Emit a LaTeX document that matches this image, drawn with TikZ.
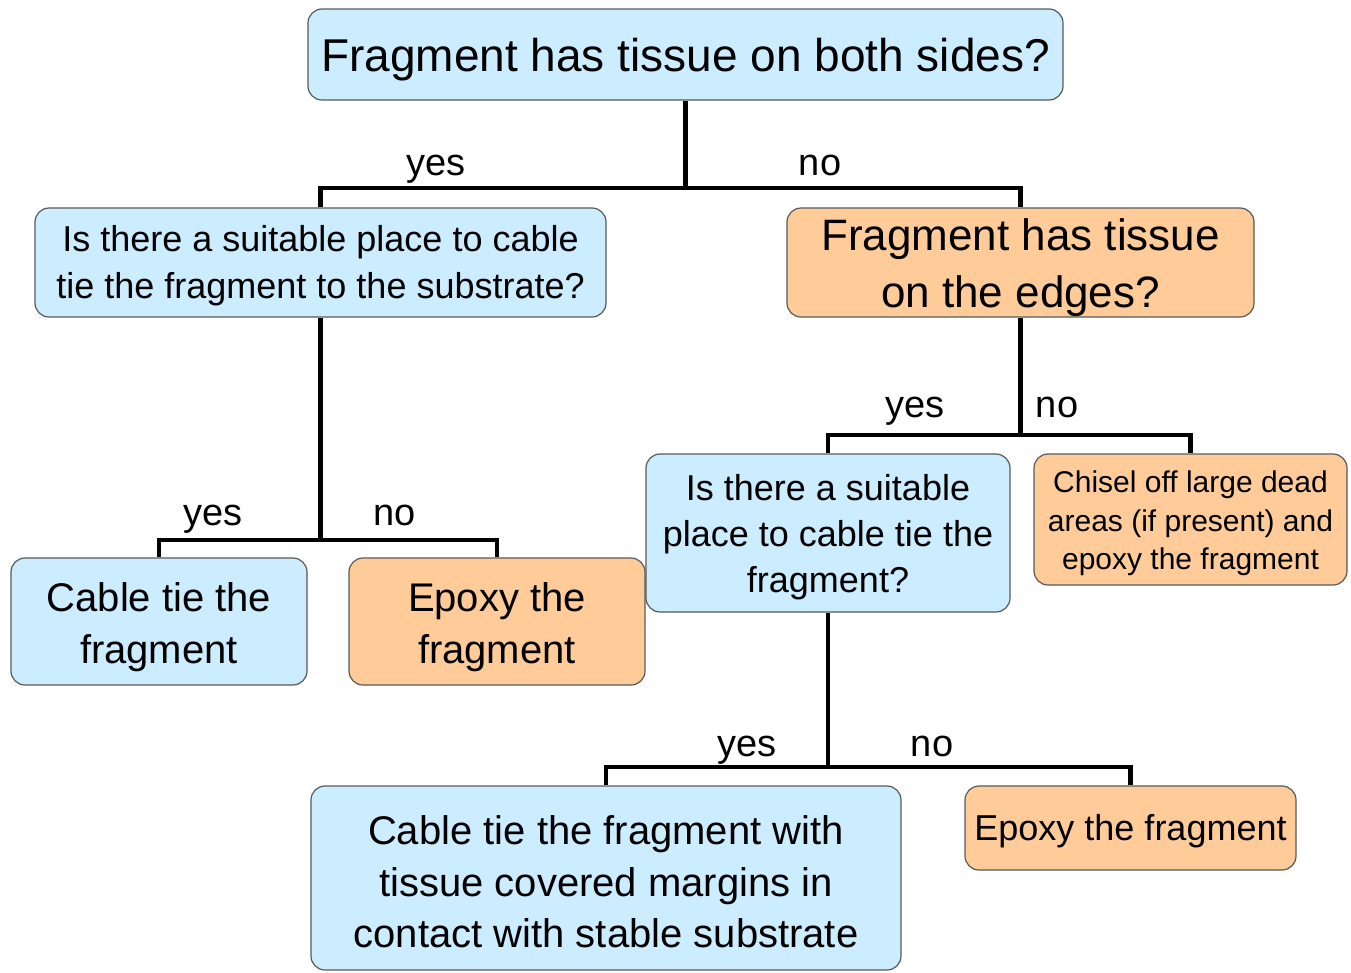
\documentclass[tikz,border=0pt]{standalone}
\usepackage{fontspec}
\setmainfont{Liberation Sans}
\definecolor{bluebox}{HTML}{CCECFF}
\definecolor{orangebox}{HTML}{FFCC99}
\begin{document}
\begin{tikzpicture}[x=1pt,y=-1pt,
  box/.style={draw=black!65, line width=1.2pt, rounded corners=14pt, inner sep=0pt, anchor=center},
  bluefill/.style={box, fill=bluebox},
  orangefill/.style={box, fill=orangebox},
  txt/.style={align=center, inner sep=0pt, anchor=center},
  conn/.style={line width=4.5pt, line cap=butt, line join=miter},
  lab/.style={font=\fontsize{38}{40}\selectfont, inner sep=0pt, anchor=base}]
\useasboundingbox (0,0) rectangle (1351,972);
% boxes
\node[bluefill, minimum width=755pt, minimum height=91pt] (top) at (685.5,54.5) {};
\node[bluefill, minimum width=571pt, minimum height=109pt] (b2) at (320.5,262.5) {};
\node[orangefill, minimum width=467pt, minimum height=109pt] (b3) at (1020.5,262.5) {};
\node[bluefill, minimum width=296pt, minimum height=127pt] (b4) at (159,621.5) {};
\node[orangefill, minimum width=296pt, minimum height=127pt] (b5) at (497,621.5) {};
\node[bluefill, minimum width=364pt, minimum height=158pt] (b6) at (828,533) {};
\node[orangefill, minimum width=313pt, minimum height=131pt] (b7) at (1190.5,519.5) {};
\node[bluefill, minimum width=590pt, minimum height=184pt] (b8) at (606,878) {};
\node[orangefill, minimum width=331pt, minimum height=84pt] (b9) at (1130.5,828) {};
% texts
\node[txt, font=\fontsize{46}{52}\selectfont, yshift=-5pt] (topt) at (top.center) {Fragment has tissue on both sides?};
\node[txt, font=\fontsize{36}{47}\selectfont, yshift=-3.5pt] (b2t) at (b2.center) {Is there a suitable place to cable\\tie the fragment to the substrate?};
\node[txt, font=\fontsize{44}{57}\selectfont, yshift=-5pt] (b3t) at (b3.center) {Fragment has tissue\\on the edges?};
\node[txt, font=\fontsize{40}{52}\selectfont, yshift=-6pt] (b4t) at (b4.center) {Cable tie the\\fragment};
\node[txt, font=\fontsize{40}{52}\selectfont, yshift=-6pt] (b5t) at (b5.center) {Epoxy the\\fragment};
\node[txt, font=\fontsize{36}{46}\selectfont, yshift=-4.5pt] (b6t) at (b6.center) {Is there a suitable\\place to cable tie the\\fragment?};
\node[txt, font=\fontsize{30}{38.5}\selectfont, yshift=-4pt] (b7t) at (b7.center) {Chisel off large dead\\areas (if present) and\\epoxy the fragment};
\node[txt, font=\fontsize{40}{51.5}\selectfont, yshift=-4pt] (b8t) at (b8.center) {Cable tie the fragment with\\tissue covered margins in\\contact with stable substrate};
\node[txt, font=\fontsize{36}{40}\selectfont, yshift=-3pt] (b9t) at (b9.center) {Epoxy the fragment};
% connectors
\coordinate (j1) at (685.5,188);
\coordinate (j2) at (320.5,540);
\coordinate (j3) at (1020.5,435);
\coordinate (j4) at (828,767);
\draw[conn] (top.south) -- (j1);
\draw[conn] (b2.north) |- (j1) -| (b3.north);
\draw[conn] (b2.south) -- (j2);
\draw[conn] (b4.north) |- (j2) -| (b5.north);
\draw[conn] (b3.south) -- (j3);
\draw[conn] (b6.north) |- (j3) -| (b7.north);
\draw[conn] (b6.south) -- (j4);
\draw[conn] (b8.north) |- (j4) -| (b9.north);
% labels
\node[lab] (l1) at (436,175) {yes};
\node[lab] (l2) at (820,175) {no};
\node[lab] (l3) at (213,525) {yes};
\node[lab] (l4) at (395,525) {no};
\node[lab] (l5) at (915,417) {yes};
\node[lab] (l6) at (1057,417) {no};
\node[lab] (l7) at (747,756) {yes};
\node[lab] (l8) at (932,756) {no};
\end{tikzpicture}
\end{document}
